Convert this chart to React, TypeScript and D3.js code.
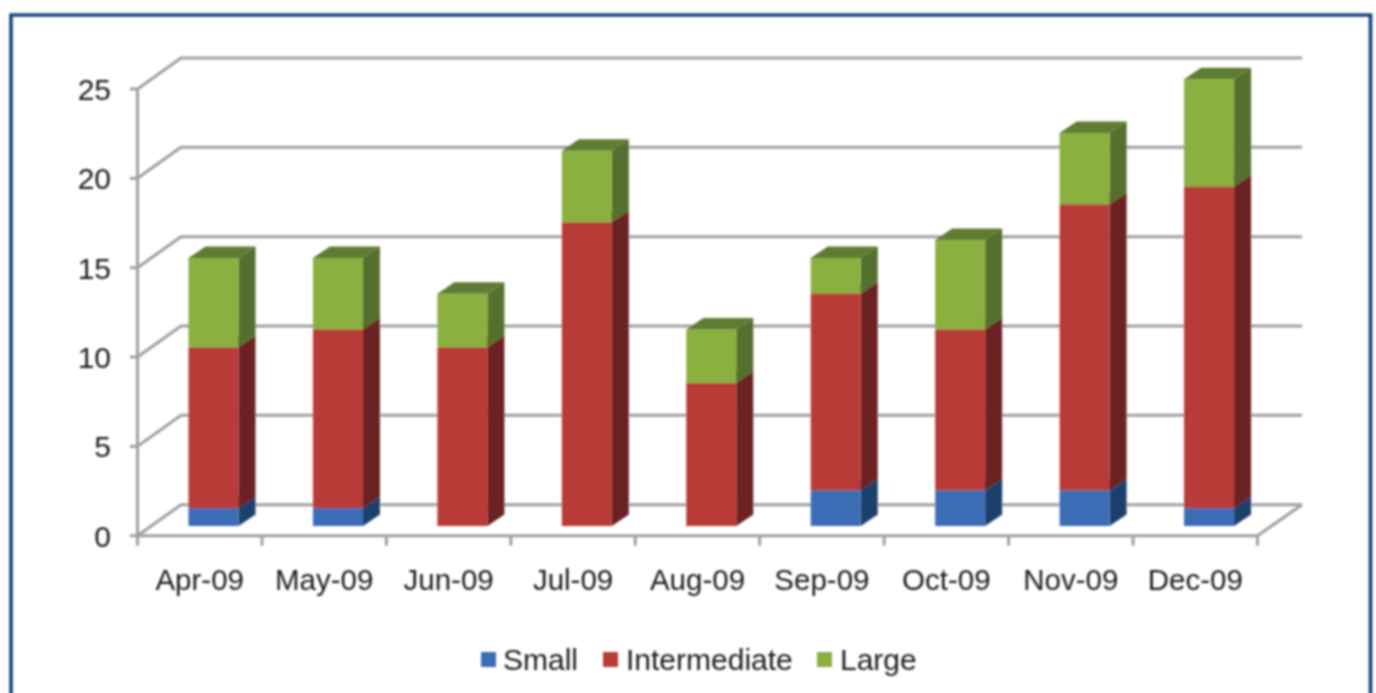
import React from "react";
import * as d3 from "d3";

const categories = ["Apr-09", "May-09", "Jun-09", "Jul-09", "Aug-09", "Sep-09", "Oct-09", "Nov-09", "Dec-09"];
const small = [1, 1, 0, 0, 0, 2, 2, 2, 1];
const intermediate = [9, 10, 10, 17, 8, 11, 9, 16, 18];
const large = [5, 4, 3, 4, 3, 2, 5, 4, 6];
const yTicks = [0, 5, 10, 15, 20, 25];
const seriesNames = ["Small", "Intermediate", "Large"];
const seriesFront = ["#3a6db5", "#b83a37", "#8ab040"];
const seriesSide = ["#1f3f6c", "#6c2220", "#55702f"];
const seriesTop = ["#2c5590", "#8b2b29", "#5f7d31"];
const seriesValues = [small, intermediate, large];
const legendSwatchX = [481, 603, 817];
const legendTextX = [503, 626, 840];

const W = 1376, H = 693;
const FONT = "'Liberation Sans', Arial, sans-serif";
const GRID = "#a0a0a0";
const TEXT = "#1f1f1f";
const GRID_W = 3;

export default function App() {
  const x = d3.scaleBand<string>().domain(categories).range([137.5, 1257.5]);
  const yFront = d3.scaleLinear().domain([0, 25]).range([535.7, 89]);
  const yBar = d3.scaleLinear().domain([0, 25]).range([526, 79.3]);
  const wallDx = 43.5, wallDy = -31;
  const barDx = 17, barDy = -11.5;
  const barOffset = 51, barW = 50;
  const rightEnd = 1302;
  const line = d3.line();

  const stacked = d3.stack<number>()
    .keys(seriesNames.map((_, i) => i) as any)
    .value((d: any, k: any) => seriesValues[k][d])(categories.map((_, i) => i));

  return (
    <svg
      width={W}
      height={H}
      viewBox={`0 0 ${W} ${H}`}
      style={{ position: "absolute", left: 0, top: 0, background: "#fff" }}
    >
      <defs>
        <filter id="soft" x="-2%" y="-2%" width="104%" height="104%">
          <feGaussianBlur stdDeviation="0.8" />
        </filter>
      </defs>
      <g filter="url(#soft)">
        <path d={`M11 ${H + 5} V15 H1370.5 V${H + 5}`} fill="none" stroke="#17437f" strokeWidth={3.6} />

        {yTicks.map((t) => (
          <g key={t}>
            <path
              d={line([[x.range()[0], yFront(t)], [x.range()[0] + wallDx, yFront(t) + wallDy], [rightEnd, yFront(t) + wallDy]])!}
              fill="none" stroke={GRID} strokeWidth={GRID_W}
            />
            <line x1={130} x2={x.range()[0]} y1={yFront(t)} y2={yFront(t)} stroke={GRID} strokeWidth={GRID_W} />
            <text x={111} y={yFront(t) + 11} textAnchor="end" fontFamily={FONT} fontSize={30} fill={TEXT}>{t}</text>
          </g>
        ))}
        <line x1={x.range()[0]} x2={x.range()[0]} y1={yFront(25)} y2={yFront(0)} stroke={GRID} strokeWidth={GRID_W} />
        <line x1={x.range()[0]} x2={x.range()[1]} y1={yFront(0)} y2={yFront(0)} stroke={GRID} strokeWidth={GRID_W} />
        <line x1={x.range()[1]} x2={rightEnd} y1={yFront(0)} y2={yFront(0) + wallDy} stroke={GRID} strokeWidth={GRID_W} />
        {categories.map((c) => (
          <line key={c} x1={x(c)!} x2={x(c)!} y1={yFront(0)} y2={yFront(0) + 10} stroke={GRID} strokeWidth={GRID_W} />
        ))}
        <line x1={x.range()[1]} x2={x.range()[1]} y1={yFront(0)} y2={yFront(0) + 10} stroke={GRID} strokeWidth={GRID_W} />

        {categories.map((c, i) => {
          const left = x(c)! + barOffset;
          const right = left + barW;
          return (
            <g key={c}>
              {stacked.map((s, k) => {
                const [v0, v1] = s[i];
                if (v1 <= v0) return null;
                const y0 = yBar(v0), y1 = yBar(v1);
                return (
                  <g key={k}>
                    <path
                      d={line([[right, y0], [right + barDx, y0 + barDy], [right + barDx, y1 + barDy], [right, y1]])! + "Z"}
                      fill={seriesSide[k]}
                    />
                    <rect x={left} y={y1} width={barW} height={y0 - y1} fill={seriesFront[k]} />
                    <path
                      d={line([[left, y1], [left + barDx, y1 + barDy], [right + barDx, y1 + barDy], [right, y1]])! + "Z"}
                      fill={seriesTop[k]}
                    />
                  </g>
                );
              })}
            </g>
          );
        })}

        {categories.map((c) => (
          <text key={c} x={x(c)! + x.bandwidth() / 2} y={590} textAnchor="middle" fontFamily={FONT} fontSize={29.5} fill={TEXT}>{c}</text>
        ))}

        {seriesNames.map((n, k) => (
          <g key={n}>
            <rect x={legendSwatchX[k]} y={652} width={15} height={15} fill={seriesFront[k]} />
            <text x={legendTextX[k]} y={670} fontFamily={FONT} fontSize={30} fill={TEXT}>{n}</text>
          </g>
        ))}
      </g>
    </svg>
  );
}
